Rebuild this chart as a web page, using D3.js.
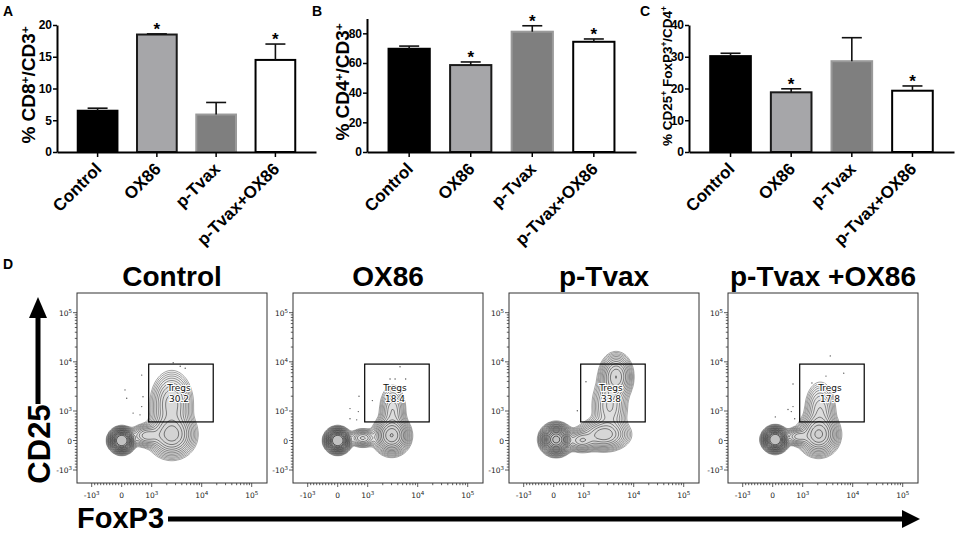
<!DOCTYPE html>
<html>
<head>
<meta charset="utf-8">
<script src="https://cdn.jsdelivr.net/npm/d3@7"></script>
<style>
body { margin: 0; background: #fff; }
svg { display: block; font-family: "Liberation Sans", Arial, sans-serif; }
</style>
</head>
<body>
<svg width="957" height="533"></svg>
<script>
// ---- bar chart data (A, B, C) ----
var groups = ["Control", "OX86", "p-Tvax", "p-Tvax+OX86"];

var cd8Mean = [6.5, 18.5, 5.9, 14.5];
var cd8Err = [0.4, 0.1, 1.9, 2.5];
var cd8Sig = [false, true, false, true];
var cd8Ticks = [0, 5, 10, 15, 20];

var cd4Mean = [69.6, 58.6, 81.1, 74.3];
var cd4Err = [1.8, 2.1, 4.0, 1.9];
var cd4Sig = [false, true, true, true];
var cd4Ticks = [0, 20, 40, 60, 80];

var tregMean = [30.2, 18.8, 28.6, 19.3];
var tregErr = [0.9, 1.1, 7.4, 1.5];
var tregSig = [false, true, false, true];
var tregTicks = [0, 10, 20, 30, 40];

// ---- flow data (D) ----
var flowTitles = ["Control", "OX86", "p-Tvax", "p-Tvax +OX86"];
var tregPct = ["30.2", "18.4", "33.8", "17.8"];
var gateFoxp3 = [900, 17000];
var gateCd25 = [630, 9000];
var flowTicks = [-1000, 0, 1000, 10000, 100000];

// populations: [FoxP3 centre, CD25 centre, spread x, spread y, weight], in biex display units
var popControl = [[0, 0, 0.09, 0.09, 1.0], [1.0, 0.12, 0.2, 0.2, 0.5], [1.0, 0.75, 0.18, 0.28, 0.35], [0.5, 0.1, 0.15, 0.1, 0.1]];
var popOx86 = [[0, 0, 0.09, 0.09, 1.0], [1.08, 0.1, 0.15, 0.16, 0.45], [1.1, 0.6, 0.12, 0.24, 0.12], [0.5, 0.05, 0.12, 0.08, 0.06]];
var popTvax = [[0.05, 0.02, 0.115, 0.115, 1.0], [1.0, 0.12, 0.22, 0.14, 0.3], [1.25, 1.3, 0.14, 0.2, 0.28], [1.12, 0.7, 0.16, 0.28, 0.2], [0.55, 0.0, 0.14, 0.1, 0.1]];
var popTvaxOx86 = [[0.05, 0.02, 0.09, 0.09, 1.0], [0.92, 0.12, 0.17, 0.18, 0.45], [0.95, 0.62, 0.14, 0.26, 0.15], [0.5, 0.08, 0.12, 0.08, 0.06]];
var flowPops = [popControl, popOx86, popTvax, popTvaxOx86];

// outlier events: [FoxP3, CD25]
var dotsControl = [[2690, 9550], [3720, 8130], [4680, 7410], [667, 5370], [110, 2690], [167, 1820], [710, 1950], [380, 930], [610, 870], [667, 1230]];
var dotsOx86 = [[4430, 7940], [2800, 4470], [3530, 4470], [5750, 4470], [710, 1995], [410, 1120], [687, 980], [410, 740], [633, 700], [1240, 1630]];
var dotsTvax = [[1110, 3940], [787, 1010]];
var dotsTvaxOx86 = [[3560, 13200], [6610, 5890], [2920, 5130], [1530, 3720], [677, 3550], [510, 1070], [677, 1230], [620, 980], [733, 740], [87, 800]];
var flowDots = [dotsControl, dotsOx86, dotsTvax, dotsTvaxOx86];

var svg = d3.select("svg");

var barFill = ["#000000", "#a6a6a9", "#7f7f7f", "#ffffff"];
var barStroke = ["#000000", "#1a1a1a", "#9a9a9a", "#000000"];

function barPanel(o) {
    var g = svg.append("g");
    var x = d3.scaleBand().domain(groups).range([o.left, o.right])
        .paddingInner(0.33).paddingOuter(0.35);
    var y = d3.scaleLinear().domain([0, o.max]).range([152, o.top]);

    g.selectAll("rect.bar")
        .data(groups)
        .enter().append("rect")
        .attr("x", function (d) { return x(d); })
        .attr("width", x.bandwidth())
        .attr("y", function (d, i) { return y(o.mean[i]); })
        .attr("height", function (d, i) { return 152 - y(o.mean[i]); })
        .attr("fill", function (d, i) { return barFill[i]; })
        .attr("stroke", function (d, i) { return barStroke[i]; })
        .attr("stroke-width", 2);

    // error bars
    groups.forEach(function (d, i) {
        var cx = x(d) + x.bandwidth() / 2,
            yt = y(o.mean[i] + o.err[i]);
        g.append("line").attr("x1", cx).attr("x2", cx)
            .attr("y1", y(o.mean[i])).attr("y2", yt)
            .attr("stroke", "#111").attr("stroke-width", 1.6);
        g.append("line").attr("x1", cx - 10).attr("x2", cx + 10)
            .attr("y1", yt).attr("y2", yt)
            .attr("stroke", "#111").attr("stroke-width", 1.6);
        if (o.sig[i]) {
            g.append("text").attr("x", cx).attr("y", yt + 1)
                .attr("text-anchor", "middle")
                .attr("font-size", 17).attr("font-weight", "bold")
                .text("*");
        }
        g.append("text")
            .attr("transform", "translate(" + (cx + 5) + ",170) rotate(-45)")
            .attr("text-anchor", "end")
            .attr("font-size", 17).attr("font-weight", "bold")
            .text(d);
    });

    var ya = g.append("g")
        .attr("transform", "translate(" + o.left + ",0)")
        .call(d3.axisLeft(y).tickValues(o.ticks).tickSize(4).tickSizeOuter(0).tickPadding(1));
    ya.select(".domain").attr("stroke-width", 2);
    ya.selectAll(".tick line").attr("stroke-width", 1.5);
    ya.selectAll("text").attr("font-size", 12).attr("font-weight", "bold")
        .attr("font-family", "Liberation Sans, Arial, sans-serif").attr("fill", "#000");

    var xa = g.append("g")
        .attr("transform", "translate(0,152)")
        .call(d3.axisBottom(x).tickSize(5).tickSizeOuter(0).tickFormat(""));
    xa.select(".domain").attr("stroke-width", 2);
    xa.selectAll(".tick line").attr("stroke-width", 1.5);

    // y label with superscripts
    var lab = g.append("text")
        .attr("transform", "translate(" + o.labX + "," + o.labY + ") rotate(-90)")
        .attr("text-anchor", "middle")
        .attr("font-size", o.labSize).attr("font-weight", "bold");
    o.label.forEach(function (p) {
        var t = lab.append("tspan").text(p[0]);
        if (p[1]) t.attr("baseline-shift", "super").attr("font-size", o.labSize * 0.62);
    });

    svg.append("text").attr("x", o.letterX).attr("y", 16)
        .attr("font-size", 14).attr("font-weight", "bold").text(o.letter);
}

barPanel({ left: 57, right: 316, top: 25, max: 20, mean: cd8Mean, err: cd8Err, sig: cd8Sig, ticks: cd8Ticks,
    labX: 35, labY: 85, labSize: 19, letter: "A", letterX: 3,
    label: [["% CD8"], ["+", 1], ["/CD3"], ["+", 1]] });
barPanel({ left: 367, right: 636, top: 18.5, max: 90, mean: cd4Mean, err: cd4Err, sig: cd4Sig, ticks: cd4Ticks,
    labX: 349, labY: 82, labSize: 19, letter: "B", letterX: 312,
    label: [["% CD4"], ["+", 1], ["/CD3"], ["+", 1]] });
barPanel({ left: 689, right: 954, top: 25, max: 40, mean: tregMean, err: tregErr, sig: tregSig, ticks: tregTicks,
    labX: 672, labY: 76, labSize: 13.5, letter: "C", letterX: 640,
    label: [["% CD25"], ["+", 1], [" FoxP3"], ["+", 1], ["/CD4"], ["+", 1]] });

// ---- panel D ----
function biex(v) {
    var a = Math.abs(v);
    var t = a <= 1000 ? a / 1000 * 0.6 : 0.6 + Math.log10(a / 1000);
    return v < 0 ? -t : t;
}

var minorTicks = [];
d3.range(-900, 1000, 100).forEach(function (v) { if (v !== 0) minorTicks.push(v); });
[1000, 10000].forEach(function (dec) {
    d3.range(2, 10).forEach(function (k) { minorTicks.push(k * dec); });
});

var flowLefts = [77, 293, 509, 728];
var levels = d3.range(18).map(function (k) { return 0.06 * Math.pow(1.35, k); });
var levelColor = d3.scaleLinear().domain([0, 17]).range(["#6a6a6a", "#111111"]);

function tickLabel(sel, v) {
    if (v === 0) { sel.text("0"); return; }
    var e = Math.round(Math.log10(Math.abs(v)));
    sel.append("tspan").text(v < 0 ? "-10" : "10");
    sel.append("tspan").attr("baseline-shift", "super").attr("font-size", 5.5).text(e);
}

function flowPanel(k) {
    var left = flowLefts[k], top = 293, size = 190;
    var g = svg.append("g");
    var sx = d3.scaleLinear().domain([-0.894, 2.906]).range([left, left + size]);
    var sy = d3.scaleLinear().domain([-0.864, 3.0]).range([top + size, top]);
    var fx = function (v) { return sx(biex(v)); },
        fy = function (v) { return sy(biex(v)); };

    g.append("text").attr("x", left + size / 2).attr("y", 286)
        .attr("text-anchor", "middle").attr("font-size", 28).attr("font-weight", "bold")
        .text(flowTitles[k]);

    g.append("clipPath").attr("id", "clip" + k)
        .append("rect").attr("x", left).attr("y", top).attr("width", size).attr("height", size);

    // density grid from the population list, drawn with d3.contours
    var n = 95, cs = size / n, pops = flowPops[k], vals = new Array(n * n);
    for (var j = 0; j < n; j++) {
        var ty = sy.invert(top + (j + 0.5) * cs);
        for (var i = 0; i < n; i++) {
            var tx = sx.invert(left + (i + 0.5) * cs), s = 0;
            pops.forEach(function (p) {
                var dx = (tx - p[0]) / p[2], dy = (ty - p[1]) / p[3];
                s += p[4] / (2 * Math.PI * p[2] * p[3]) * Math.exp(-0.5 * (dx * dx + dy * dy));
            });
            vals[j * n + i] = s;
        }
    }
    var contours = d3.contours().size([n, n]).thresholds(levels)(vals);
    var proj = d3.geoTransform({ point: function (px, py) { this.stream.point(left + px * cs, top + py * cs); } });
    g.append("g").attr("clip-path", "url(#clip" + k + ")")
        .selectAll("path").data(contours).enter().append("path")
        .attr("d", d3.geoPath(proj))
        .attr("fill", "#808080").attr("fill-opacity", 0.03)
        .attr("stroke", function (d, i) { return levelColor(i); })
        .attr("stroke-width", 0.6);

    g.selectAll("circle.dot").data(flowDots[k]).enter().append("circle")
        .attr("cx", function (d) { return fx(d[0]); })
        .attr("cy", function (d) { return fy(d[1]); })
        .attr("r", 0.7).attr("fill", "#555");

    // gate
    g.append("rect")
        .attr("x", fx(gateFoxp3[0])).attr("y", fy(gateCd25[1]))
        .attr("width", fx(gateFoxp3[1]) - fx(gateFoxp3[0]))
        .attr("height", fy(gateCd25[0]) - fy(gateCd25[1]))
        .attr("fill", "none").attr("stroke", "#000").attr("stroke-width", 1.2);
    var gx = (fx(gateFoxp3[0]) + fx(gateFoxp3[1])) / 2, gt = fy(gateCd25[1]);
    [["Tregs", 27], [tregPct[k], 38]].forEach(function (t) {
        g.append("text").attr("x", gx - 2).attr("y", gt + t[1])
            .attr("text-anchor", "middle").attr("font-size", 9)
            .attr("font-family", "DejaVu Sans, sans-serif")
            .attr("stroke", "#fff").attr("stroke-width", 2).attr("paint-order", "stroke")
            .attr("fill", "#111").text(t[0]);
    });

    g.append("rect").attr("x", left).attr("y", top).attr("width", size).attr("height", size)
        .attr("fill", "none").attr("stroke", "#333").attr("stroke-width", 1);

    // axis ticks
    var tk = g.append("g").attr("stroke", "#333").attr("stroke-width", 0.8);
    flowTicks.forEach(function (v) {
        tk.append("line").attr("x1", fx(v)).attr("x2", fx(v)).attr("y1", top + size).attr("y2", top + size + 4);
        tk.append("line").attr("y1", fy(v)).attr("y2", fy(v)).attr("x1", left).attr("x2", left - 4);
    });
    minorTicks.forEach(function (v) {
        tk.append("line").attr("x1", fx(v)).attr("x2", fx(v)).attr("y1", top + size).attr("y2", top + size + 2.2);
        tk.append("line").attr("y1", fy(v)).attr("y2", fy(v)).attr("x1", left).attr("x2", left - 2.2);
    });
    flowTicks.forEach(function (v) {
        var tx = g.append("text").attr("x", fx(v)).attr("y", top + size + 15)
            .attr("text-anchor", "middle").attr("font-size", 7.5)
            .attr("font-family", "DejaVu Sans, sans-serif").attr("fill", "#222");
        tickLabel(tx, v);
        var ty = g.append("text").attr("x", left - 5).attr("y", fy(v) + 3)
            .attr("text-anchor", "end").attr("font-size", 7.5)
            .attr("font-family", "DejaVu Sans, sans-serif").attr("fill", "#222");
        tickLabel(ty, v);
    });
}

flowTitles.forEach(function (t, k) { flowPanel(k); });

svg.append("text").attr("x", 3).attr("y", 269)
    .attr("font-size", 14).attr("font-weight", "bold").text("D");

// CD25 arrow
svg.append("line").attr("x1", 38).attr("x2", 38).attr("y1", 404).attr("y2", 316)
    .attr("stroke", "#000").attr("stroke-width", 5);
svg.append("path").attr("d", "M29,318L47,318L38,297Z").attr("fill", "#000");
svg.append("text").attr("transform", "translate(50,444) rotate(-90)")
    .attr("text-anchor", "middle").attr("font-size", 31).attr("font-weight", "bold")
    .text("CD25");

// FoxP3 arrow
svg.append("text").attr("x", 77).attr("y", 528)
    .attr("font-size", 29).attr("font-weight", "bold").text("FoxP3");
svg.append("line").attr("x1", 168).attr("x2", 904).attr("y1", 519).attr("y2", 519)
    .attr("stroke", "#000").attr("stroke-width", 5);
svg.append("path").attr("d", "M902,510L902,528L920,519Z").attr("fill", "#000");
</script>
</body>
</html>
